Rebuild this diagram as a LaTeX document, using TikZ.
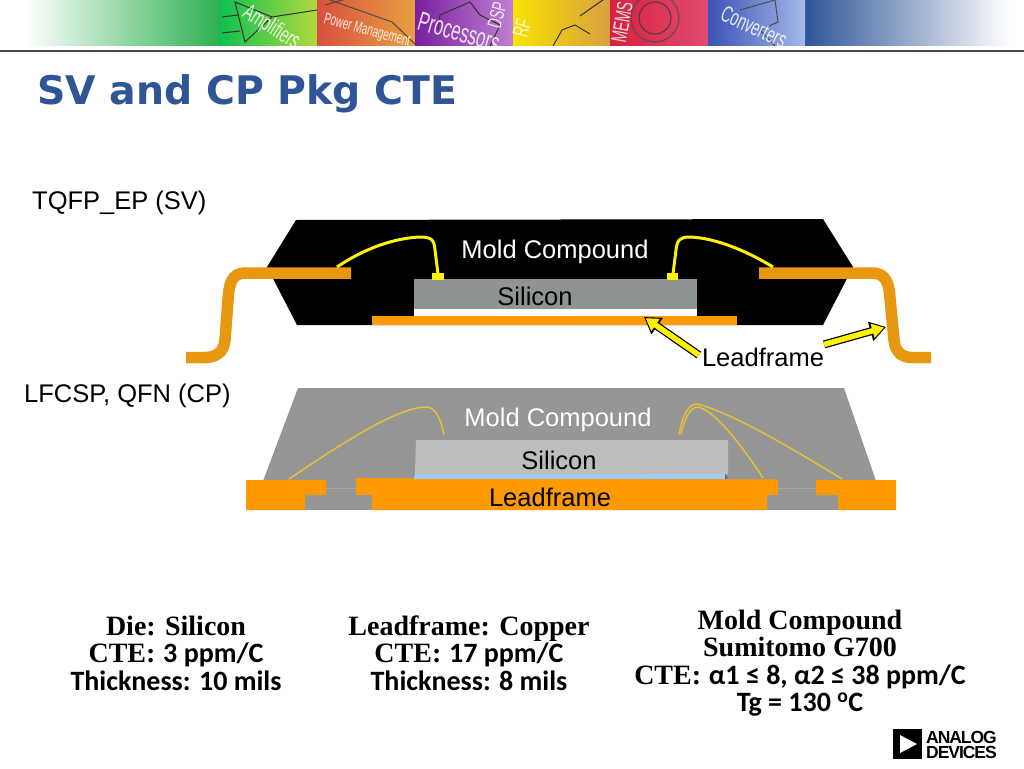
\documentclass[tikz,border=0pt]{standalone}
\usepackage{fontspec}
\setmainfont{Liberation Sans}
\newfontfamily\serifbold[BoldFont={Liberation Serif Bold}]{Liberation Serif}
\newfontfamily\calibold{Carlito}
\newfontfamily\titlefont{DejaVu Sans}
\newfontfamily\logofont[LetterSpace=-6]{Liberation Sans}
\newfontfamily\bannerfont[FakeStretch=0.62]{Liberation Sans}
\usetikzlibrary{arrows.meta}
\definecolor{titleblue}{HTML}{2F5597}
\definecolor{leadorange}{HTML}{FF9900}
\definecolor{gullorange}{HTML}{E8980F}
\definecolor{siliconsv}{HTML}{8E9393}
\definecolor{siliconcp}{HTML}{BDBDBD}
\definecolor{moldcp}{HTML}{969696}
\definecolor{attachblue}{HTML}{A4CBF0}
\definecolor{wirecp}{HTML}{E2C232}
\definecolor{gradgreen}{HTML}{2DB04F}
\definecolor{ampl}{HTML}{10C050}\definecolor{ampr}{HTML}{B0DA3C}
\definecolor{powl}{HTML}{D85040}\definecolor{powr}{HTML}{E8A040}
\definecolor{proc}{HTML}{7A1FA0}\definecolor{procr}{HTML}{C080D0}
\definecolor{rfl}{HTML}{F8E200}\definecolor{rfr}{HTML}{D8A040}
\definecolor{memsl}{HTML}{D81F3F}\definecolor{memsr}{HTML}{E04C70}
\definecolor{convl}{HTML}{3B52B8}\definecolor{convr}{HTML}{A5B8E8}
\tikzset{
  lbl/.style={inner sep=0pt,font=\fontsize{25.5}{27}\selectfont},
  spec/.style={inner sep=0pt,align=center,font=\fontsize{28}{27.5}\selectfont\bfseries},
  bannertxt/.style={inner sep=0pt,text=white,opacity=.85},
  wiresv/.style={yellow,line width=3pt},
  wirethin/.style={wirecp,line width=1.5pt},
  leadarrow/.style={yellow,line width=5.5pt,shorten >=2pt,-{Triangle[length=12pt,width=14pt]},
    preaction={draw=black,line width=8pt,shorten >=0pt,-{Triangle[length=16pt,width=19pt]}}}
}
\newcommand{\cte}[1]{{\serifbold CTE:} {\calibold #1}}
\begin{document}
\begin{tikzpicture}[x=1pt,y=-1pt]
\useasboundingbox (0,0) rectangle (1024,768);
\fill[white] (0,0) rectangle (1024,768);
% banner
\shade[left color=white,right color=gradgreen] (25,0) rectangle (220,46);
\shade[left color=titleblue,right color=white] (805,0) rectangle (1010,46);
\foreach \xa/\xb/\ca/\cb in {220/317/ampl/ampr, 317/415/powl/powr,
                             415/513/proc/procr, 513/610/rfl/rfr,
                             610/708/memsl/memsr, 708/805/convl/convr}
  \shade[left color=\ca,right color=\cb] (\xa,0) rectangle (\xb,46);
\begin{scope}
\clip (220,0) rectangle (805,46);
\draw[black!80,line width=1pt] (222,17) -- (238,15) (222,33) -- (240,31)
  (235,2) -- (245,42) -- (272,17) -- cycle (272,17) -- (317,10);
\draw[black!70,line width=1pt] (325,5) -- (395,-15) (330,0) -- (392,22) -- (415,44);
\draw[black!80,line width=1pt] (438,30) -- (440,15) -- (470,2) -- (480,15) -- (500,25) -- (490,46);
\draw[black!80,line width=1pt] (580,16) -- (610,-5) (553,46) -- (562,30) -- (575,25) -- (590,34);
\draw[black!75,line width=1pt] (655,18) circle[radius=16pt];
\draw[black!70,line width=1.5pt,densely dotted] (655,18) circle[radius=24pt];
\draw[black!70,line width=1pt] (740,10) -- (775,0) -- (778,22) -- (760,30) -- (775,46);
\node[bannertxt,rotate=-32,font=\fontsize{23}{23}\selectfont\bannerfont] (ampbanner) at (271,28) {Amplifiers};
\node[bannertxt,rotate=-15,font=\fontsize{16}{16}\selectfont\bannerfont] (powerbanner) at (367,31) {Power Management};
\node[bannertxt,rotate=-16,font=\fontsize{27}{27}\selectfont\bannerfont] (procbanner) at (459,32) {Processors};
\node[bannertxt,rotate=75,font=\fontsize{20}{20}\selectfont\bannerfont] (dspbanner) at (497,15) {DSP};
\node[bannertxt,rotate=75,font=\fontsize{22}{22}\selectfont\bannerfont] (rfbanner) at (522,28) {RF};
\node[bannertxt,rotate=80,font=\fontsize{22}{22}\selectfont\bannerfont] (memsbanner) at (622,22) {MEMS};
\node[bannertxt,rotate=-25,font=\fontsize{23}{23}\selectfont\bannerfont] (convbanner) at (754,27) {Converters};
\end{scope}
\draw[black!70,line width=1.6pt] (0,51) -- (1024,51);
% title
\node[anchor=base west,inner sep=0pt,text=titleblue,font=\fontsize{39.4}{39}\selectfont\titlefont\bfseries]
  (title) at (37,104) {SV and CP Pkg CTE};
% SV package
\node[lbl,anchor=west] (svname) at (32,203) {TQFP\_EP (SV)};
\fill[black] (296,220) -- (823,219) -- (853,267) -- (823,325) -- (297,325) -- (267,267) -- cycle;
\draw[gullorange,line width=11.5pt] (351,273) -- (245,273)
  .. controls (231,273) and (229,285) .. (228,300) -- (225,340)
  .. controls (224,352) and (216,357.5) .. (205,357.5) -- (186,357.5);
\draw[gullorange,line width=11.5pt] (759,273) -- (872,273)
  .. controls (885,273) and (889,282) .. (890,298) -- (894,340)
  .. controls (895,352) and (902,357.5) .. (912,357.5) -- (931,357.5);
\fill[white] (414,305) rectangle (697,316);
\fill[siliconsv] (414,279) rectangle (697,309);
\fill[leadorange] (372,316) rectangle (737,325);
\fill[yellow] (432,273) rectangle (444,280);
\fill[yellow] (667,273) rectangle (678,280);
\draw[wiresv] (337,267) .. controls (365,248) and (395,238) .. (420,237)
  .. controls (432,237) and (434,240) .. (435,250) -- (438,274);
\draw[wiresv] (773,267) .. controls (745,250) and (715,238) .. (690,237)
  .. controls (680,237) and (677,240) .. (676,250) -- (673,274);
\node[lbl,text=white] (moldsv) at (555,252) {Mold Compound};
\node[lbl] (siliconsv) at (535,296.5) {Silicon};
\node[lbl] (leadsv) at (763,357) {Leadframe};
\coordinate (padtip) at (644,317);
\coordinate (gulltip) at (886,327);
\draw[leadarrow] ([xshift=-3pt,yshift=2pt]leadsv.west) -- (padtip);
\draw[leadarrow] ([yshift=3pt]leadsv.north east) -- (gulltip);
% CP package
\node[lbl,anchor=west] (cpname) at (24,396) {LFCSP, QFN (CP)};
\fill[moldcp] (298,388) -- (844,388) -- (876,481) -- (263,481) -- cycle;
\fill[leadorange] (246,480) -- (326,480) -- (326,495) -- (305,495) -- (305,510) -- (246,510) -- cycle;
\fill[leadorange] (356,478) -- (520,479) -- (778,479.5) -- (778,495) -- (767,495) -- (767,510) -- (372,510) -- (372,495) -- (356,495) -- cycle;
\fill[leadorange] (816,480) -- (896,480) -- (896,510) -- (838,510) -- (838,495) -- (816,495) -- cycle;
\fill[moldcp] (326,480) rectangle (356,495);
\fill[moldcp] (305,495) rectangle (372,510);
\fill[moldcp] (778,480) rectangle (816,495);
\fill[moldcp] (767,495) rectangle (838,510);
\draw[moldcp!85!white,line width=.6pt] (326,488) -- (356,488) (778,488) -- (816,488);
\fill[attachblue] (414,479) -- (725,479) -- (725,474) -- (415,474) -- cycle;
\fill[moldcp!70!black] (725,474) -- (728,478) -- (725,479) -- cycle;
\fill[siliconcp] (416,440) -- (728,440) -- (728,474) -- (415,474) -- cycle;
\draw[wirethin] (289,479) .. controls (335,448) and (395,408) .. (425,407)
  .. controls (436,406) and (441,420) .. (444,435);
\draw[wirethin] (679,434) .. controls (683,415) and (688,404) .. (697,404)
  .. controls (730,412) and (790,447) .. (842,479);
\draw[wirethin] (681,434) .. controls (685,418) and (690,407) .. (698,407)
  .. controls (715,410) and (745,450) .. (763,478);
\node[lbl,text=white] (moldcp) at (558,420) {Mold Compound};
\node[lbl] (siliconcp) at (559,460) {Silicon};
\node[lbl] (leadcp) at (550,497) {Leadframe};
% material notes
\node[spec] (diespec) at (176,653) {{\serifbold Die: Silicon}\\ \cte{3 ppm/C}\\ {\calibold Thickness: 10 mils}};
\node[spec] (leadspec) at (469,653) {{\serifbold Leadframe: Copper}\\ \cte{17 ppm/C}\\ {\calibold Thickness: 8 mils}};
\node[spec] (moldspec) at (800,663) {{\serifbold Mold Compound}\\ {\serifbold Sumitomo G700}\\
  \cte{α1 ≤ 8, α2 ≤ 38 ppm/C}\\ {\calibold Tg = 130 \textsuperscript{o}C}};
% logo
\fill[black] (893,729) rectangle (922,759);
\fill[white] (900,735) -- (917,744) -- (900,753) -- cycle;
\node[inner sep=0pt,anchor=base west,font=\fontsize{17.5}{17}\selectfont\logofont\bfseries] (logoa) at (926,743) {ANALOG};
\node[inner sep=0pt,anchor=base west,font=\fontsize{17.5}{17}\selectfont\logofont\bfseries] (logob) at (926,758) {DEVICES};
\end{tikzpicture}
\end{document}
